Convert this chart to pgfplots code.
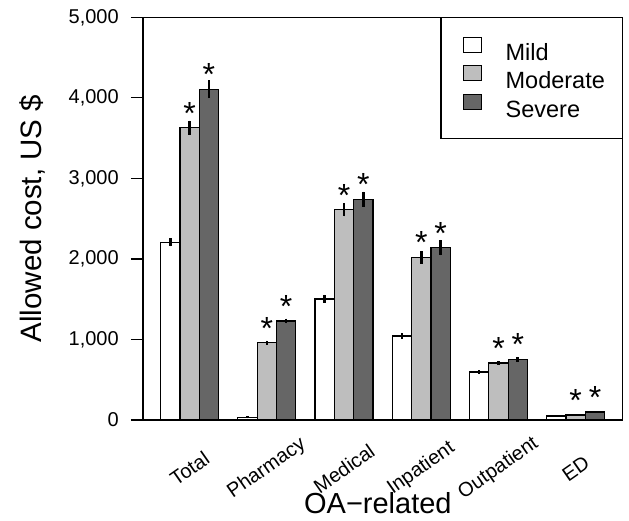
\documentclass[border=0pt]{standalone}
\usepackage{pgfplots}
\pgfplotsset{compat=1.18}
\usepackage{fontspec}
\setmainfont{Liberation Sans}
\definecolor{modgray}{RGB}{190,190,190}
\definecolor{sevgray}{RGB}{102,102,102}
\newcommand{\tickfont}{\fontsize{20bp}{24bp}\selectfont}
\begin{document}
\begin{tikzpicture}
\begin{axis}[
  at={(142.9bp,101bp)}, anchor=south west,
  width=479.5bp, height=402.7bp, scale only axis,
  xmin=0.08, xmax=24.92, ymin=0, ymax=5000,
  axis line style={line width=1.2bp},
  ytick={0,1000,2000,3000,4000,5000},
  ytick pos=left, tick align=outside, major tick length=12bp,
  every tick/.style={black, line width=1.2bp},
  /pgf/number format/.cd, 1000 sep={,}, assume math mode=true, /pgfplots/.cd,
  tick label style={font=\tickfont},
  yticklabel={\tickfont\pgfmathprintnumber{\tick}},
  yticklabel style={inner sep=0pt, xshift=-12bp},
  xtick={2.5,6.5,10.5,14.5,18.5,22.5},
  xticklabels={{\tickfont Total},{\tickfont Pharmacy},{\tickfont Medical},{\tickfont Inpatient},{\tickfont Outpatient},{\tickfont ED}},
  x tick style={draw=none},
  xticklabel style={anchor=center, inner sep=0pt, yshift=-36.5bp, rotate=35},
  ylabel={Allowed cost, US \$},
  ylabel style={font=\fontsize{29.5bp}{34bp}\selectfont, at={(axis description cs:-0.2115,0.5)}, anchor=base, rotate=0},
  xlabel={OA−related},
  xlabel style={font=\fontsize{29bp}{34bp}\selectfont, at={(axis description cs:0.49,-0.2334)}, anchor=base},
  legend style={at={(1,1)}, anchor=north east, draw=black, line width=1.2bp, fill=white,
    inner xsep=17.5bp, inner ysep=19.2bp, outer sep=0pt, row sep=3bp, column sep=23.7bp,
    font=\fontsize{23.5bp}{28bp}\selectfont,
    nodes={inner sep=0pt, text height=18bp, text depth=2bp}},
  legend cell align=left,
  legend image code/.code={\path (0bp,0bp); \draw[#1, line width=1.2bp] (4.2bp,0bp) rectangle (22.2bp,15bp);},
  error bars/y dir=both, error bars/y explicit,
  error bars/error mark=none,
  error bars/error bar style={line width=2.6bp, black},
]
\addplot[ybar, bar width=1, bar shift=0pt, draw=black, line width=1.2bp, fill=white]
  coordinates {(1.5,2207) +- (0,50) (5.5,33) +- (0,12) (9.5,1503) +- (0,50) (13.5,1043) +- (0,40) (17.5,596) +- (0,20) (21.5,50) +- (0,8)};
\addlegendentry{Mild}
\addplot[ybar, bar width=1, bar shift=0pt, draw=black, line width=1.2bp, fill=modgray]
  coordinates {(2.5,3627) +- (0,90) (6.5,960) +- (0,25) (10.5,2612) +- (0,85) (14.5,2021) +- (0,80) (18.5,708) +- (0,25) (22.5,62) +- (0,10)};
\addlegendentry{Moderate}
\addplot[ybar, bar width=1, bar shift=0pt, draw=black, line width=1.2bp, fill=sevgray]
  coordinates {(3.5,4108) +- (0,110) (7.5,1230) +- (0,30) (11.5,2741) +- (0,95) (15.5,2141) +- (0,95) (19.5,754) +- (0,30) (23.5,99) +- (0,12)};
\addlegendentry{Severe}
\addplot[forget plot, draw=none, mark=none, nodes near coords={*},
  every node near coord/.style={anchor=base, inner sep=0pt, yshift=-18.5bp, font=\fontsize{32bp}{36bp}\selectfont, black}]
  coordinates {(2.5,3900) (3.5,4381) (6.5,1233) (7.5,1503) (10.5,2885) (11.5,3014) (14.5,2294) (15.5,2414) (18.5,981) (19.5,1027) (22.5,335) (23.5,372)};
\end{axis}
\pgfresetboundingbox
\path[use as bounding box] (0,0) rectangle (629bp,521bp);
\end{tikzpicture}
\end{document}
